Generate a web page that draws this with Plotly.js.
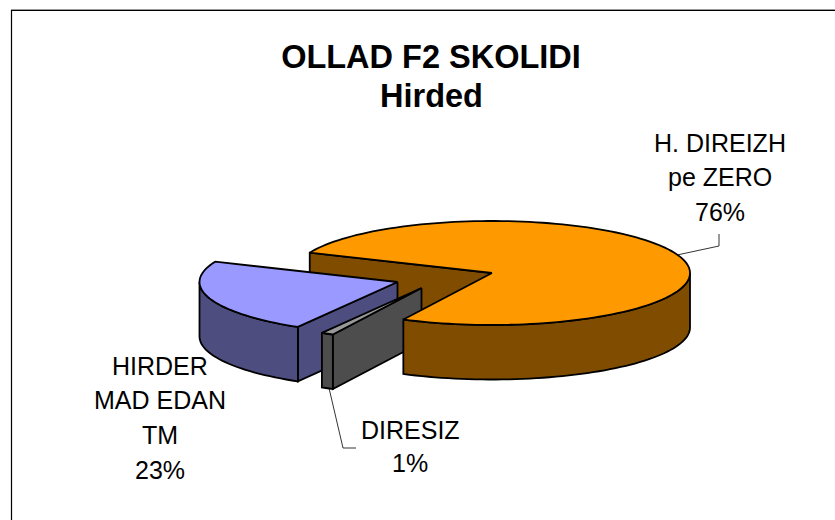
<!DOCTYPE html>
<html>
<head>
<meta charset="utf-8">
<script src="https://cdn.plot.ly/plotly-3.0.1.min.js"></script>
<style>html,body{margin:0;padding:0;background:#fff}#c{width:835px;height:520px}</style>
</head>
<body>
<div id="c"></div>
<script>
// Data
const categories = [["H. DIREIZH", "pe ZERO"], ["DIRESIZ"], ["HIRDER", "MAD EDAN", "TM"]];
const values = [76, 1, 23];
const topColors = ["#FF9900", "#999999", "#9999FF"];
const sideColors = ["#804D00", "#4D4D4D", "#4D4D80"];
const titleLines = ["OLLAD F2 SKOLIDI", "Hirded"];

// Projection of the tilted pie, in plot units
const W = 835, H = 520;
const centre = [492, 273], rx = 198, ry = 52, depth = 54.5, startAngle = 293;
const explode = [[0, 0], [-70.5, 15], [-94.5, 9]];
const labelCentres = [[720, [143, 177, 212]], [410, [430, 463]], [160, [366, 400, 435, 470]]];
const leaders = [[[677, 719, 719], [255, 246, 234]], [[329, 343, 356], [388, 448, 448]]];

const total = values.reduce((a, b) => a + b, 0);
const rad = d => d * Math.PI / 180;
let acc = startAngle;
const slices = values.map((v, i) => {
  const a0 = acc; acc += v / total * 360;
  return {a0, a1: acc, cx: centre[0] + explode[i][0], cy: centre[1] + explode[i][1]};
});
const pt = (s, a) => [s.cx + rx * Math.sin(rad(a)), s.cy - ry * Math.cos(rad(a))];
function arc(s, a, b) { const p = []; const n = Math.max(2, Math.ceil(Math.abs(b - a) / 2)); for (let k = 0; k <= n; k++) p.push(pt(s, a + (b - a) * k / n)); return p; }
function poly(points, fill) {
  const x = points.map(p => p[0]).concat(points[0][0]);
  const y = points.map(p => p[1]).concat(points[0][1]);
  return {type: "scatter", mode: "lines", x, y, fill: "toself", fillcolor: fill, line: {color: "#000", width: 1.8, simplify: false}, hoverinfo: "skip", showlegend: false};
}
const down = p => [p[0], p[1] + depth];
function topFace(s, c) { return poly([[s.cx, s.cy]].concat(arc(s, s.a0, s.a1)), c); }
function edgeFace(s, a, c) { const e = pt(s, a); const o = [s.cx, s.cy]; return poly([o, e, down(e), down(o)], c); }
function wall(s, a, b, c) { const p = arc(s, a, b); return poly(p.concat(p.slice().reverse().map(down)), c); }

const [so, sg, sb] = slices;
const traces = [
  edgeFace(so, so.a0, sideColors[0]),
  edgeFace(sb, sb.a0, sideColors[2]),
  wall(sb, sb.a0, 360 + 270, sideColors[2]),
  topFace(sb, topColors[2]),
  edgeFace(sg, sg.a0, sideColors[1]),
  wall(sg, sg.a0, sg.a1, sideColors[1]),
  topFace(sg, topColors[1]),
  wall(so, 90, so.a1 - 360, sideColors[0]),
  topFace(so, topColors[0])
];
leaders.forEach(l => traces.push({type: "scatter", mode: "lines", x: l[0], y: l[1], line: {color: "#000", width: 0.8}, hoverinfo: "skip", showlegend: false}));

const annotations = [{
  x: 431, y: 96, xref: "x", yref: "y", text: "<b>" + titleLines[1] + "</b>", showarrow: false, xanchor: "center", yanchor: "middle",
  font: {family: "Liberation Sans, Arial, sans-serif", size: 32.5, color: "#000"}
}];
categories.forEach((lines, i) => {
  const [xc, ys] = labelCentres[i];
  lines.concat(values[i] + "%").forEach((t, k) => annotations.push({
    x: xc, y: ys[k], xref: "x", yref: "y", text: t, showarrow: false, xanchor: "center", yanchor: "middle",
    font: {family: "Liberation Sans, Arial, sans-serif", size: 25, color: "#000"}
  }));
});

const layout = {
  width: W, height: H, margin: {l: 0, r: 0, t: 0, b: 0},
  paper_bgcolor: "#fff", plot_bgcolor: "#fff", showlegend: false,
  title: {text: "<b>" + titleLines[0] + "</b>", x: 431 / W, xanchor: "center", y: 1 - 57 / H, yanchor: "middle",
          font: {family: "Liberation Sans, Arial, sans-serif", size: 32.5, color: "#000"}},
  xaxis: {range: [0, W], visible: false, fixedrange: true},
  yaxis: {range: [H, 0], visible: false, fixedrange: true},
  shapes: [
    {type: "line", xref: "x", yref: "y", x0: 11.5, x1: 11.5, y0: 10, y1: H, line: {color: "#000", width: 1.2}},
    {type: "line", xref: "x", yref: "y", x0: 11, x1: W, y0: 10.5, y1: 10.5, line: {color: "#000", width: 1.2}},
    {type: "line", xref: "x", yref: "y", x0: 11, x1: W, y0: 9.5, y1: 9.5, line: {color: "#999", width: 1}}
  ],
  annotations
};
Plotly.newPlot("c", traces, layout, {displayModeBar: false, staticPlot: true});
</script>
</body>
</html>
